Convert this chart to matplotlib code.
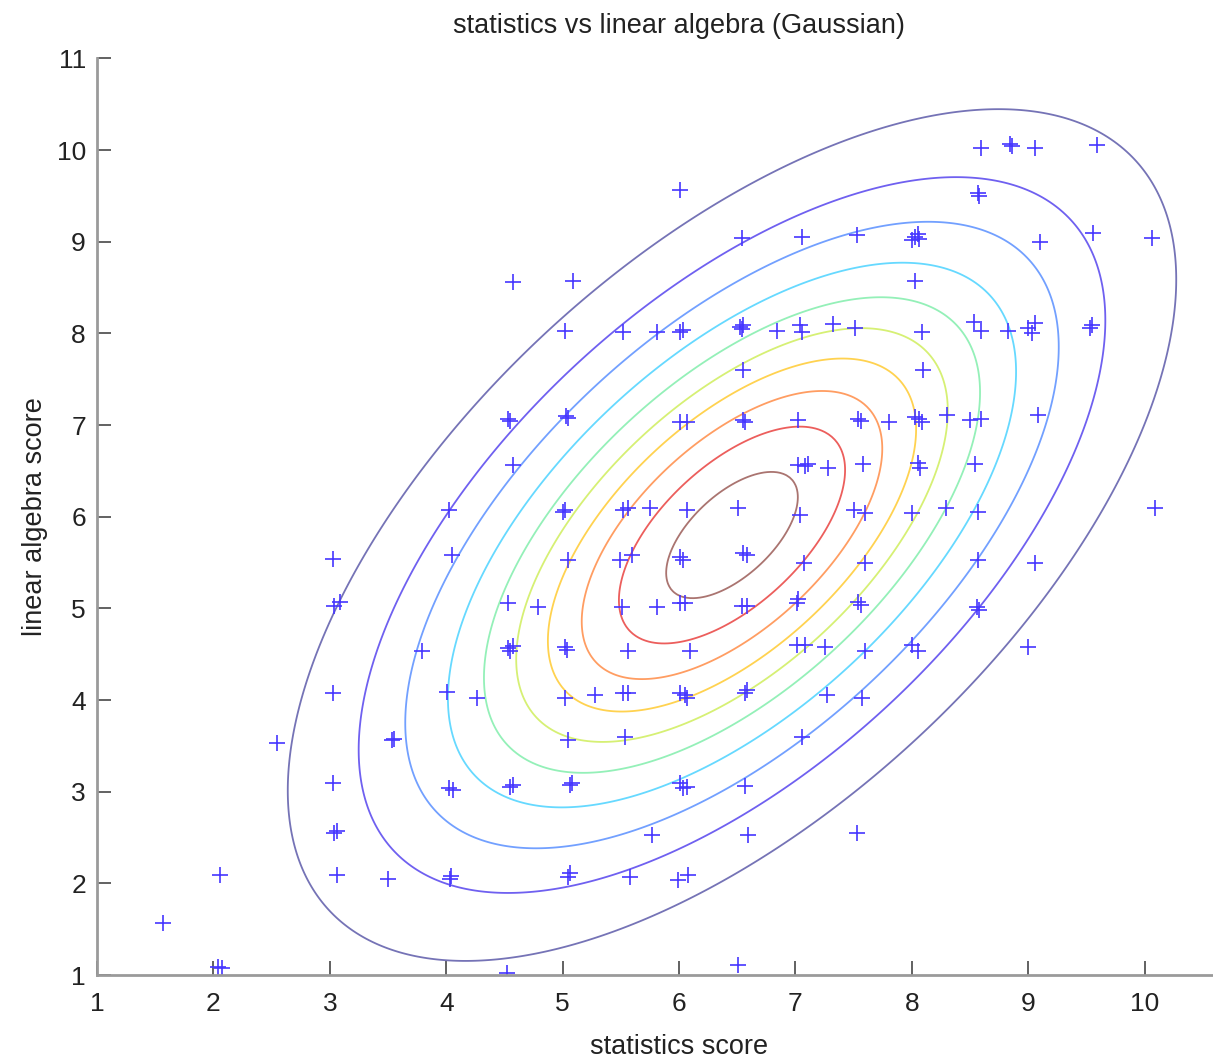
#!/usr/bin/env python3
from __future__ import annotations

import matplotlib

matplotlib.use("Agg")
import matplotlib.pyplot as plt
import numpy as np

# scores (statistics, linear algebra)
stat_scores = [
    6.01, 6.54, 7.06, 7.53, 4.57, 5.09, 5.02, 5.52, 5.81, 6.01, 6.03,
    6.52, 6.55, 6.54, 6.84, 7.04, 7.06, 7.32, 7.51, 6.55, 4.53, 4.55,
    5.03, 5.05, 6.01, 6.07, 6.55, 6.57, 7.02, 7.54, 7.56, 8.59, 8.84,
    8.86, 9.06, 9.59, 8.57, 8.58, 8.03, 8.06, 8.00, 8.05, 9.10, 9.56,
    10.06, 8.03, 8.53, 8.59, 8.83, 9.00, 9.06, 9.03, 9.55, 9.53, 8.09,
    8.10, 7.80, 8.03, 8.09, 8.06, 8.30, 8.50, 8.59, 9.08, 4.02, 4.05,
    3.03, 3.04, 3.09, 3.79, 3.03, 4.57, 7.02, 7.11, 7.08, 7.28, 7.58,
    5.00, 5.02, 5.52, 5.56, 5.75, 6.07, 6.51, 7.04, 7.50, 7.60, 5.05,
    5.49, 5.60, 6.01, 6.03, 6.55, 6.58, 7.07, 7.60, 4.53, 4.79, 5.51,
    5.81, 6.01, 6.05, 6.54, 6.58, 7.01, 7.02, 7.54, 7.56, 4.53, 4.55,
    4.57, 5.02, 5.04, 5.56, 6.09, 7.01, 7.08, 7.25, 7.60, 8.05, 8.07,
    8.54, 8.00, 8.29, 8.57, 10.09, 8.57, 9.06, 8.56, 8.58, 8.00, 8.05,
    9.00, 4.01, 4.26, 2.55, 3.53, 3.55, 3.03, 4.02, 4.06, 3.04, 3.06,
    2.06, 3.06, 3.50, 4.03, 4.04, 1.57, 2.04, 2.07, 5.02, 5.28, 5.52,
    5.56, 6.01, 6.05, 6.07, 6.57, 6.58, 7.27, 7.57, 5.05, 5.54, 7.06,
    4.55, 4.57, 5.06, 5.08, 6.01, 6.03, 6.07, 6.57, 5.77, 6.59, 7.53,
    5.05, 5.06, 5.58, 5.99, 6.08, 4.52, 6.51,
]
linalg_scores = [
    9.56, 9.04, 9.05, 9.07, 8.56, 8.57, 8.03, 8.01, 8.01, 8.02, 8.04,
    8.07, 8.09, 8.05, 8.03, 8.09, 8.01, 8.10, 8.06, 7.60, 7.07, 7.04,
    7.10, 7.08, 7.03, 7.03, 7.05, 7.03, 7.05, 7.07, 7.04, 10.02, 10.07,
    10.04, 10.02, 10.05, 9.53, 9.50, 9.05, 9.03, 9.02, 9.08, 9.00, 9.09,
    9.04, 8.57, 8.12, 8.03, 8.03, 8.06, 8.11, 8.00, 8.09, 8.06, 8.01,
    7.60, 7.03, 7.09, 7.03, 7.07, 7.11, 7.05, 7.07, 7.11, 6.07, 5.58,
    5.54, 5.03, 5.07, 4.54, 4.08, 6.56, 6.56, 6.58, 6.55, 6.53, 6.58,
    6.05, 6.07, 6.07, 6.10, 6.10, 6.07, 6.10, 6.02, 6.07, 6.04, 5.53,
    5.53, 5.58, 5.56, 5.53, 5.60, 5.58, 5.50, 5.49, 5.06, 5.02, 5.01,
    5.01, 5.06, 5.06, 5.03, 5.03, 5.06, 5.10, 5.07, 5.04, 4.57, 4.54,
    4.59, 4.58, 4.55, 4.54, 4.54, 4.60, 4.60, 4.58, 4.54, 6.59, 6.53,
    6.58, 6.04, 6.09, 6.05, 6.09, 5.53, 5.50, 5.01, 4.98, 4.60, 4.54,
    4.58, 4.09, 4.02, 3.53, 3.56, 3.58, 3.09, 3.04, 3.02, 2.55, 2.57,
    2.09, 2.09, 2.05, 2.05, 2.08, 1.57, 1.09, 1.08, 4.02, 4.05, 4.08,
    4.08, 4.08, 4.05, 4.02, 4.08, 4.11, 4.05, 4.02, 3.56, 3.60, 3.60,
    3.05, 3.07, 3.07, 3.09, 3.09, 3.04, 3.05, 3.06, 2.53, 2.53, 2.55,
    2.07, 2.11, 2.07, 2.04, 2.09, 1.02, 1.11,
]

# fitted Gaussian (mean, std devs, correlation) and contour heights as fraction of peak
gauss_mean = [6.455, 5.80]
gauss_std = [1.698, 2.067]
gauss_corr = 0.60
level_fracs = [0.080, 0.168, 0.255, 0.356, 0.455, 0.551, 0.648, 0.749, 0.849, 0.946]
level_colors = [
    "#7573b6", "#6f60f0", "#72a0ff", "#66d9ff", "#94f0b8",
    "#d6f074", "#ffd250", "#ff9d62", "#ec5e5c", "#aa7470",
]

x_ticks = [1, 2, 3, 4, 5, 6, 7, 8, 9, 10]
y_ticks = [1, 2, 3, 4, 5, 6, 7, 8, 9, 10, 11]


def gaussian_grid(xs: np.ndarray, ys: np.ndarray) -> np.ndarray:
    sx, sy = gauss_std
    cov = np.array([[sx * sx, gauss_corr * sx * sy], [gauss_corr * sx * sy, sy * sy]])
    inv = np.linalg.inv(cov)
    gx, gy = np.meshgrid(xs, ys)
    dx = gx - gauss_mean[0]
    dy = gy - gauss_mean[1]
    m = inv[0, 0] * dx * dx + 2 * inv[0, 1] * dx * dy + inv[1, 1] * dy * dy
    return np.exp(-0.5 * m) / (2 * np.pi * np.sqrt(np.linalg.det(cov)))


def main() -> None:
    plt.rcParams["font.family"] = ["Liberation Sans", "DejaVu Sans"]

    fig = plt.figure(figsize=(12.13, 10.61), dpi=100)
    # the plot box runs to x=11, a bit past the right edge of the picture
    ax = fig.add_axes([0.080, 0.081, 0.9596, 0.864])

    xs = np.linspace(0.5, 11.5, 400)
    ys = np.linspace(0.5, 11.5, 400)
    z = gaussian_grid(xs, ys)
    peak = z.max()
    ax.contour(xs, ys, z, levels=[peak * f for f in level_fracs],
               colors=level_colors, linewidths=1.3)

    ax.plot(stat_scores, linalg_scores, linestyle="none", marker="+",
            markersize=12, markeredgewidth=1.2, color="#4636ff")

    ax.set_xlim(1, 11)
    ax.set_ylim(1, 11)
    ax.set_xticks(x_ticks)
    ax.set_yticks(y_ticks)
    for side in ("top", "right"):
        ax.spines[side].set_visible(False)
    for side in ("left", "bottom"):
        ax.spines[side].set_color("#9a9a9a")
        ax.spines[side].set_linewidth(2)
    ax.tick_params(direction="in", length=10, width=1.3, color="#555555",
                   labelsize=19, labelcolor="#222222")
    ax.tick_params(axis="x", pad=12)
    ax.tick_params(axis="y", pad=8)

    ax.set_title("statistics vs linear algebra (Gaussian)", fontsize=19.5, color="#222222", pad=18)
    ax.set_xlabel("statistics score", fontsize=19.5, color="#222222", labelpad=13)
    ax.set_ylabel("linear algebra score", fontsize=19.5, color="#222222", labelpad=6)

    fig.savefig("out.png", dpi=100)
    plt.close(fig)


if __name__ == "__main__":
    main()
